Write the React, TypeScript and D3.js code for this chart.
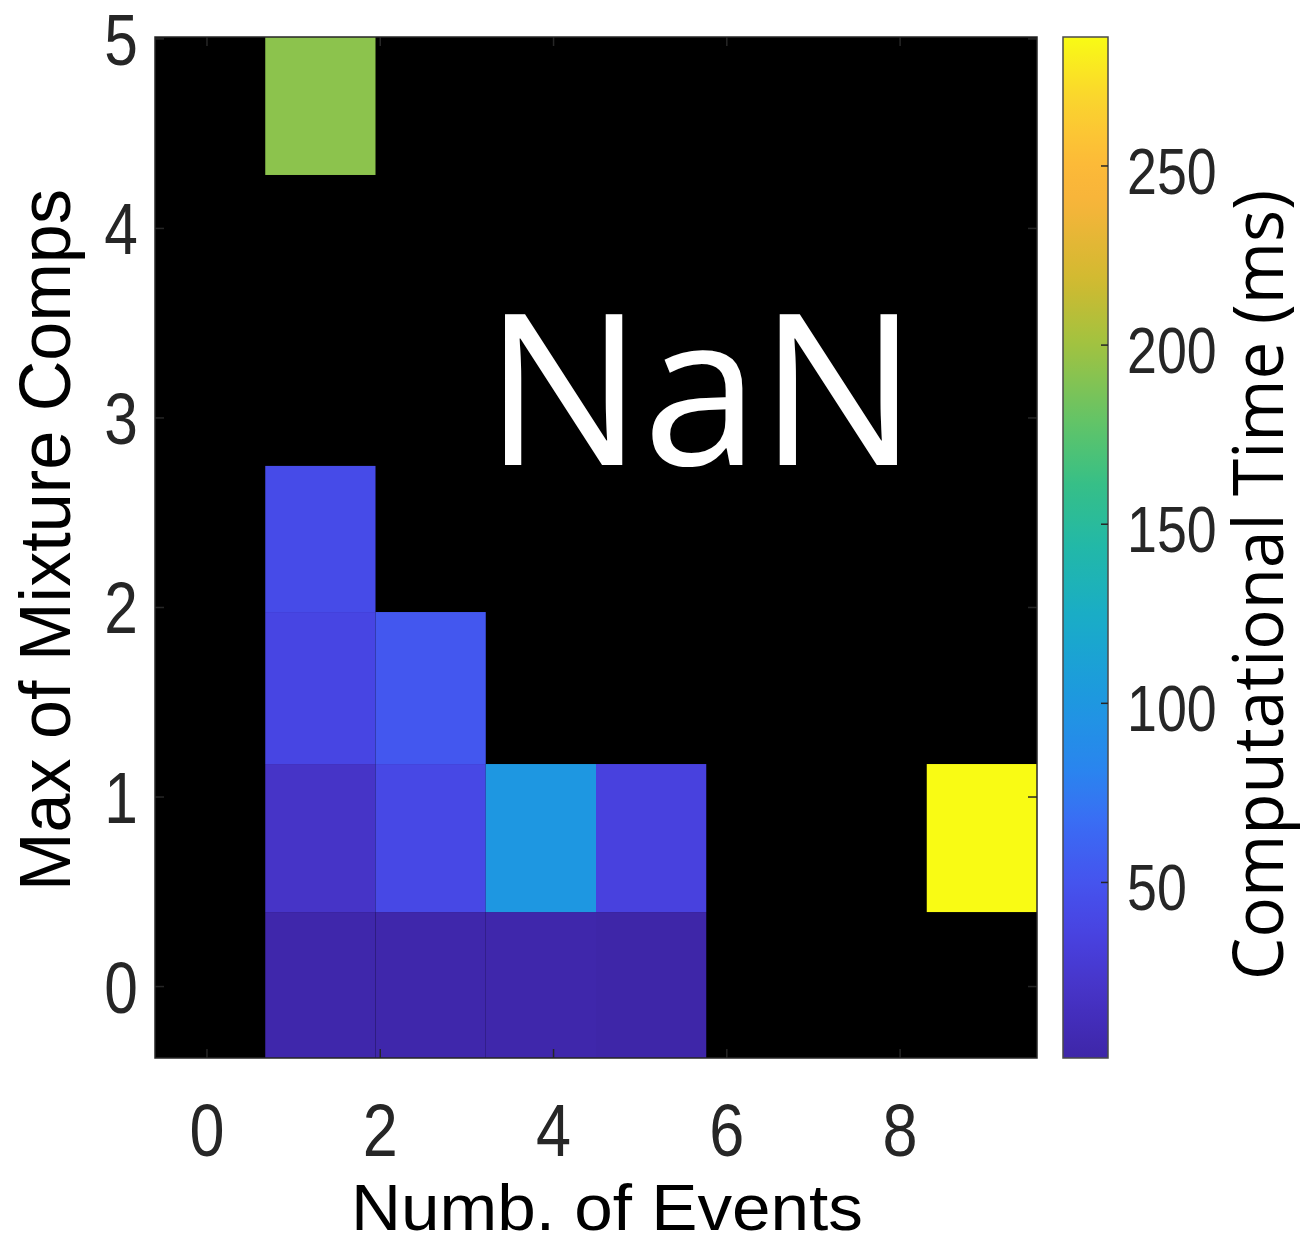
import React from 'react';
import * as d3 from 'd3';

// Grid of runs: columns = number of events, rows = max mixture components (bottom → top)
const eventCols = [0, 1, 2, 3, 4, 5, 6, 7];
const compRows = [0, 1, 2, 3, 4, 5, 6];
// row boundaries in axis units (bottom edge of each row, then the top edge of the last one)
const rowEdges = [-0.377, 0.393, 1.174, 1.976, 2.747, 3.52, 4.282, 5.01];

// Computational time (ms); NaN marks configurations with no result
const timeRow0 = [NaN, 3, 3, 3, 1, NaN, NaN, NaN];
const timeRow1 = [NaN, 20, 40, 100, 34, NaN, NaN, 286];
const timeRow2 = [NaN, 38, 52, NaN, NaN, NaN, NaN, NaN];
const timeRow3 = [NaN, 43, NaN, NaN, NaN, NaN, NaN, NaN];
const timeRow4 = [NaN, NaN, NaN, NaN, NaN, NaN, NaN, NaN];
const timeRow5 = [NaN, NaN, NaN, NaN, NaN, NaN, NaN, NaN];
const timeRow6 = [NaN, 193, NaN, NaN, NaN, NaN, NaN, NaN];
const timeRows = [timeRow0, timeRow1, timeRow2, timeRow3, timeRow4, timeRow5, timeRow6];

const xTicks = [0, 2, 4, 6, 8];
const yTicks = [0, 1, 2, 3, 4, 5];
const cbTicks = [50, 100, 150, 200, 250];

// parula-like colormap stops
const cmapStops = [0, 0.06, 0.12, 0.17, 0.23, 0.28, 0.35, 0.43, 0.5, 0.56, 0.62, 0.7, 0.76, 0.84, 0.88, 0.94, 1];
const cmapColors = ['#3e26a8', '#4632c4', '#4842e0', '#4553ee', '#3a6cf4', '#2a84ef', '#1e98e0', '#19acc8',
  '#22b8a8', '#35bf88', '#60c468', '#a2c240', '#d0ba30', '#f8b43a', '#fdbb38', '#fad52e', '#f9fb14'];

const W = 1316;
const H = 1244;
const plot = { left: 155, right: 1037, top: 37, bottom: 1058 };
const cbar = { left: 1063, right: 1108 };

const tickFont = '"Liberation Sans", Arial, Helvetica, sans-serif';
const titleFont = '"Open Sans", "Noto Sans", sans-serif';
const axisColor = '#262626';

export default function App() {
  const allVals = timeRows.flat().filter((v) => !Number.isNaN(v));
  const [vMin, vMax] = d3.extent(allVals) as [number, number];

  const cmap = d3.scaleLinear<string>().domain(cmapStops).range(cmapColors).interpolate(d3.interpolateRgb).clamp(true);
  const norm = d3.scaleLinear().domain([vMin, vMax]).range([0, 1]).clamp(true);
  const color = (v: number) => cmap(norm(v));

  const xBand = d3.scaleBand<number>().domain(eventCols).range([plot.left, plot.right]).padding(0);

  const xAxis = d3.scaleLinear().domain([-0.6, 9.58]).range([plot.left, plot.right]);
  const yAxis = d3.scaleLinear().domain([rowEdges[0], rowEdges[rowEdges.length - 1]]).range([plot.bottom, plot.top]);
  const cbScale = d3.scaleLinear().domain([vMin, vMax]).range([plot.bottom, plot.top]);

  const cells: { r: number; c: number; v: number }[] = [];
  compRows.forEach((r) => {
    eventCols.forEach((c) => {
      cells.push({ r, c, v: timeRows[r][c] });
    });
  });

  const gradStops = d3.range(0, 1.0001, 1 / 64);
  const tickLen = 9;
  const sx = 0.84;

  return (
    <svg width={W} height={H} style={{ position: 'absolute', left: 0, top: 0, background: '#fff' }}>
      <defs>
        <linearGradient id="cbGrad" x1="0" y1="1" x2="0" y2="0">
          {gradStops.map((t, i) => (
            <stop key={i} offset={t} stopColor={cmap(t)} />
          ))}
        </linearGradient>
      </defs>
      <rect x={0} y={0} width={W} height={H} fill="#fff" />

      {/* heatmap cells; NaN cells show the black axes background */}
      <rect x={plot.left} y={plot.top} width={plot.right - plot.left} height={plot.bottom - plot.top} fill="#000" />
      {cells.map((d, i) => {
        if (Number.isNaN(d.v)) return null;
        const yTop = yAxis(rowEdges[d.r + 1]);
        const yBot = yAxis(rowEdges[d.r]);
        return (
          <rect
            key={i}
            x={xBand(d.c)!}
            y={yTop}
            width={xBand.bandwidth()}
            height={yBot - yTop}
            fill={color(d.v)}
          />
        );
      })}

      {/* axes box and inward ticks */}
      <rect
        x={plot.left}
        y={plot.top}
        width={plot.right - plot.left}
        height={plot.bottom - plot.top}
        fill="none"
        stroke={axisColor}
        strokeWidth={1.5}
      />
      {xTicks.map((t) => (
        <g key={`xt${t}`} stroke={axisColor} strokeWidth={1.5}>
          <line x1={xAxis(t)} x2={xAxis(t)} y1={plot.bottom} y2={plot.bottom - tickLen} />
          <line x1={xAxis(t)} x2={xAxis(t)} y1={plot.top} y2={plot.top + tickLen} />
        </g>
      ))}
      {yTicks.map((t) => (
        <g key={`yt${t}`} stroke={axisColor} strokeWidth={1.5}>
          <line x1={plot.left} x2={plot.left + tickLen} y1={yAxis(t)} y2={yAxis(t)} />
          <line x1={plot.right} x2={plot.right - tickLen} y1={yAxis(t)} y2={yAxis(t)} />
        </g>
      ))}

      {/* tick labels */}
      {xTicks.map((t) => (
        <text
          key={`xl${t}`}
          transform={`translate(${xAxis(t)},1155.5) scale(${sx},1)`}
          textAnchor="middle"
          fontFamily={tickFont}
          fontSize={75}
          fill="#262626"
        >
          {t}
        </text>
      ))}
      {yTicks.map((t) => (
        <text
          key={`yl${t}`}
          transform={`translate(138,${yAxis(t) + 26}) scale(${sx},1)`}
          textAnchor="end"
          fontFamily={tickFont}
          fontSize={72}
          fill="#262626"
        >
          {t}
        </text>
      ))}

      {/* axis titles */}
      <text
        x={607}
        y={1230}
        textAnchor="middle"
        fontFamily={tickFont}
        fontSize={64}
        textLength={512}
        lengthAdjust="spacingAndGlyphs"
        fill="#000"
      >
        Numb. of Events
      </text>
      <text
        transform="translate(70,540) rotate(-90)"
        textAnchor="middle"
        fontFamily={tickFont}
        fontSize={73}
        textLength={702}
        lengthAdjust="spacingAndGlyphs"
        fill="#000"
      >
        Max of Mixture Comps
      </text>

      {/* NaN annotation */}
      <text x={701} y={465} textAnchor="middle" fontFamily={titleFont} fontSize={210} fill="#fff">
        NaN
      </text>

      {/* colorbar */}
      <rect
        x={cbar.left}
        y={plot.top}
        width={cbar.right - cbar.left}
        height={plot.bottom - plot.top}
        fill="url(#cbGrad)"
        stroke="#4a4a4a"
        strokeWidth={1.5}
      />
      {cbTicks.map((t) => (
        <g key={`cb${t}`}>
          <line x1={cbar.right} x2={cbar.right - 7} y1={cbScale(t)} y2={cbScale(t)} stroke={axisColor} strokeWidth={1.5} />
          <text
            transform={`translate(1127,${cbScale(t) + 28}) scale(${sx},1)`}
            fontFamily={tickFont}
            fontSize={64}
            fill="#262626"
          >
            {t}
          </text>
        </g>
      ))}
      <text
        transform="translate(1283,585) rotate(-90)"
        textAnchor="middle"
        fontFamily={titleFont}
        fontSize={70}
        textLength={790}
        lengthAdjust="spacingAndGlyphs"
        fill="#000"
      >
        Computational Time (ms)
      </text>
    </svg>
  );
}
